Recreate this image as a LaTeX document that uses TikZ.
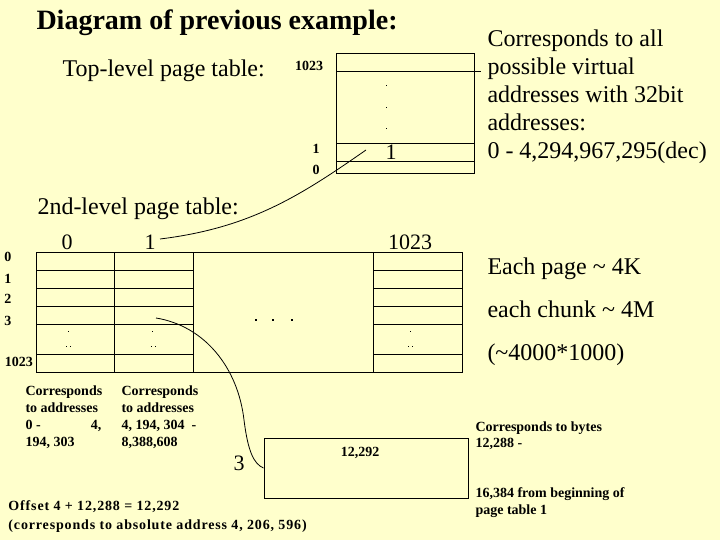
\documentclass[tikz,border=0pt]{standalone}
\usepackage{fontspec}
\setmainfont{Liberation Serif}
\newfontfamily\spacedbf[LetterSpace=6]{Liberation Serif}
\definecolor{bgc}{RGB}{255,255,204}
\begin{document}
\begin{tikzpicture}[x=1pt,y=-1pt,line width=1pt,
  tx/.style={inner sep=0pt,anchor=west,text depth=0pt},
  ttl/.style={tx,text height=19.6pt,font=\fontsize{28}{32}\selectfont\bfseries},
  big/.style={tx,text height=16.8pt,font=\fontsize{24}{28}\selectfont},
  dig/.style={tx,anchor=center,text height=15.4pt,font=\fontsize{22}{26}\selectfont},
  lab/.style={tx,anchor=center,text height=9.8pt,font=\fontsize{14}{17}\selectfont\bfseries},
  blk/.style={inner sep=0pt,anchor=north west,align=left,font=\fontsize{14}{17}\selectfont\bfseries},
  bigblk/.style={inner sep=0pt,anchor=north west,align=left,font=\fontsize{24}{28}\selectfont},
  dotc/.style={fill=black},
  conn/.style={line width=0.8pt}]
\fill[bgc] (0,0) rectangle (720,540);
\useasboundingbox (0,0) rectangle (720,540);

% titles
\node[ttl] (title) at (36,20) {Diagram of previous example:};
\node[big] (toplbl) at (62,68) {Top-level page table:};
\node[big] (seclbl) at (37,206) {2nd-level page table:};

% top-level table
\draw (336,54) rectangle (474,174);
\draw (336,72) -- (481,72);
\draw (336,144) -- (474,144);
\draw (336,162) -- (474,162);
\node[lab] (t1023) at (309,66) {1023};
\node[lab] (t1) at (316,149) {1};
\node[lab] (t0) at (316,170) {0};
\foreach \y in {86,108,129} \fill[dotc] (385.5,\y-0.5) rectangle (386.5,\y+0.5);
\node[dig] (tone) at (391,152) {1};
\coordinate (tp) at (366,150);

% right top text
\node[bigblk] (allv) at (487,29) {Corresponds to all\\possible virtual\\addresses with 32bit\\addresses:\\0 - 4,294,967,295(dec)};

% second-level table
\draw (36,252) rectangle (462,372);
\foreach \x in {114,193,373} \draw (\x,252) -- (\x,372);
\foreach \y in {270,288,306,324,354} {
  \draw (36,\y) -- (193,\y);
  \draw (373,\y) -- (462,\y);
}
\node[dig] (h0) at (67,242) {0};
\node[dig] (h1) at (150,242) {1};
\node[dig] (h1023) at (410,242) {1023};
\node[lab] (r0) at (8,257) {0};
\node[lab] (r1) at (8,279) {1};
\node[lab] (r2) at (8,299) {2};
\node[lab] (r3) at (8,321) {3};
\node[lab] (r1023) at (19,362) {1023};
\foreach \x in {68,152.5,410} {
  \fill[dotc] (\x-0.5,331.2) rectangle (\x+0.5,332.2);
  \fill[dotc] (\x-2,346.2) rectangle (\x-1,347.2);
  \fill[dotc] (\x+2,346.2) rectangle (\x+3,347.2);
}
\foreach \x in {255.5,273,291.5} \fill[dotc] (\x-1,319) rectangle (\x+1,321);
\coordinate (c13) at (156,318);

% connector top-level entry 1 -> column 1
\path (h1.east) ++(4,-3) coordinate (h1e);
\draw[conn] (h1e) .. controls (250,228) and (300,196) .. (tp);

% right texts
\node[big] (pg4k) at (487,266) {Each page \char`\~\ 4K};
\node[big] (ch4m) at (487,309) {each chunk \char`\~\ 4M};
\node[big] (prod) at (487,352) {(\char`\~4000*1000)};

% bottom left blocks
\node[blk] (ca0) at (25,385) {Corresponds\\to addresses\\\makebox[76pt][l]{0 -\hfill 4,}\\194, 303};
\node[blk] (ca1) at (121,385) {Corresponds\\to addresses\\4, 194, 304~~-\\8,388,608};

% page box
\node[draw,minimum width=204pt,minimum height=60pt,inner sep=0pt] (pg) at (366,468) {};
\node[lab] (off) at (360,452) {12,292};
\node[dig] (three) at (239,463) {3};
\draw[conn] (c13) .. controls (205,326) and (238,368) .. (244,420) .. controls (248,452) and (254,464) .. (pg.west);

% right bottom text
\node[blk,font=\fontsize{14}{16}\selectfont\bfseries] (cb) at (475,421) {Corresponds to bytes\\12,288 -};
\node[blk] (cb2) at (475,487) {16,384 from beginning of\\page table 1};

% offset text
\node[blk,font=\fontsize{14}{19.5}\selectfont\spacedbf\bfseries] (offs) at (8,500) {Offset 4 + 12,288 = 12,292\\(corresponds to absolute address 4, 206, 596)};
\end{tikzpicture}
\end{document}
